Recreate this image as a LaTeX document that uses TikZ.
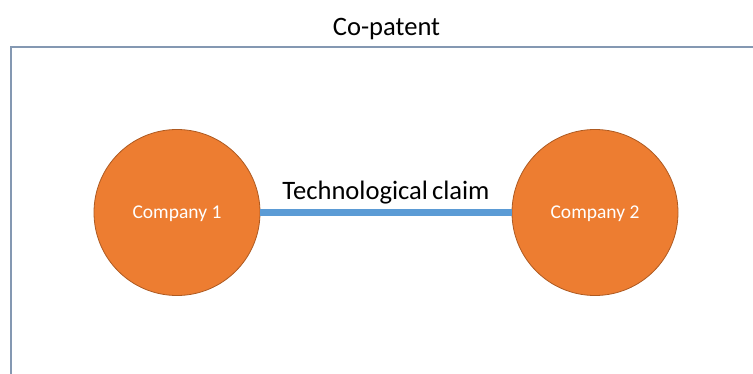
\documentclass[tikz,border=0pt]{standalone}
\usepackage{fontspec}
\setmainfont{Carlito}
\definecolor{orangefill}{HTML}{ED7D31}
\definecolor{orangeedge}{HTML}{AE5A21}
\definecolor{linkblue}{HTML}{5B9BD5}
\definecolor{framecol}{HTML}{8498B2}
\tikzset{
  company/.style={circle, fill=orangefill, draw=orangeedge, line width=0.8pt,
    minimum size=166pt, inner sep=0pt, text=white, font=\fontsize{19.5}{22}\selectfont,
    text height=12pt, text depth=0pt},
  link/.style={draw=linkblue, line width=7pt},
  bigtext/.style={font=\fontsize{26.6}{30}\selectfont, text=black, inner sep=0pt}
}
\begin{document}
\begin{tikzpicture}[x=1pt,y=1pt]
\clip (0,0) rectangle (753,373);
\fill[white] (0,0) rectangle (753,373);
\draw[framecol, line width=1.8pt] (11,-10) rectangle (780,326);
\node[bigtext, anchor=base] (title) at (386.5,337) {Co-patent};
\node[company] (c1) at (177,160.5) {Company 1};
\node[company] (c2) at (595,160.5) {Company 2};
\draw[link] (c1.east) -- (c2.west);
\node[bigtext, anchor=base] (claim) at (386,174) {Technological\hspace{-2pt} claim};
\end{tikzpicture}
\end{document}
